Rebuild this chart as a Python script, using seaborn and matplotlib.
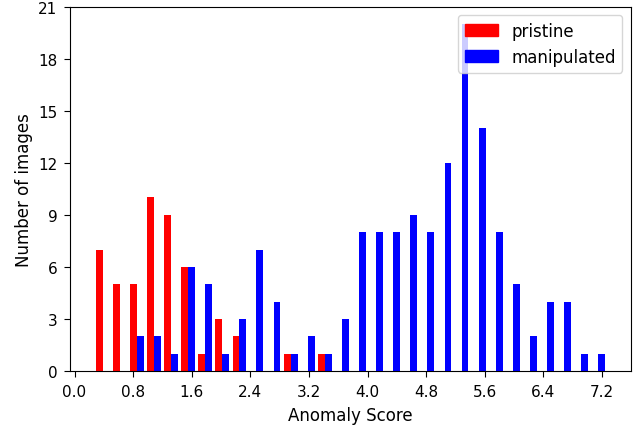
import matplotlib
matplotlib.use('Agg')
import matplotlib.pyplot as plt
import numpy as np
import pandas as pd
import seaborn as sns
from matplotlib.patches import Patch

# Histogram bins (30 equal bins over the anomaly score range)
bin_lo = 0.267
bin_hi = 7.267
n_bins = 30

# Counts per bin
pristine_counts = [7, 5, 5, 10, 9, 6, 1, 3, 2, 0,
                   0, 1, 0, 1, 0, 0, 0, 0, 0, 0,
                   0, 0, 0, 0, 0, 0, 0, 0, 0, 0]
manipulated_counts = [0, 0, 2, 2, 1, 6, 5, 1, 3, 7,
                      4, 1, 2, 1, 3, 8, 8, 8, 9, 8,
                      12, 20, 14, 8, 5, 2, 4, 4, 1, 1]

groups = ['pristine', 'manipulated']
colors = ['red', 'blue']
x_ticks = [0.0, 0.8, 1.6, 2.4, 3.2, 4.0, 4.8, 5.6, 6.4, 7.2]
y_ticks = [0, 3, 6, 9, 12, 15, 18, 21]

edges = np.linspace(bin_lo, bin_hi, n_bins + 1)
centers = (edges[:-1] + edges[1:]) / 2

df = pd.concat([
    pd.DataFrame({'score': centers, 'count': pristine_counts, 'group': groups[0]}),
    pd.DataFrame({'score': centers, 'count': manipulated_counts, 'group': groups[1]}),
], ignore_index=True)

fig, ax = plt.subplots(figsize=(6.34, 4.27), dpi=100)
fig.subplots_adjust(left=70.3 / 634, right=630.7 / 634, top=1 - 7.5 / 427, bottom=1 - 372 / 427)

sns.histplot(data=df, x='score', weights='count', hue='group', hue_order=groups,
             bins=n_bins, binrange=(bin_lo, bin_hi), multiple='dodge', shrink=0.8,
             palette=dict(zip(groups, colors)), alpha=1, linewidth=0, legend=False, ax=ax)

ax.set_ylim(0, 21)
ax.set_yticks(y_ticks)
ax.set_xticks(x_ticks)
ax.set_xticklabels(['%.1f' % t for t in x_ticks])
ax.tick_params(labelsize=11, length=4.2, pad=5)
ax.set_xlabel('Anomaly Score', fontsize=12, labelpad=5.5)
ax.set_ylabel('Number of images', fontsize=12)

handles = [Patch(color=c) for c in colors]
ax.legend(handles, groups, loc='upper right', fontsize=12)

fig.savefig('out.png', dpi=100)
